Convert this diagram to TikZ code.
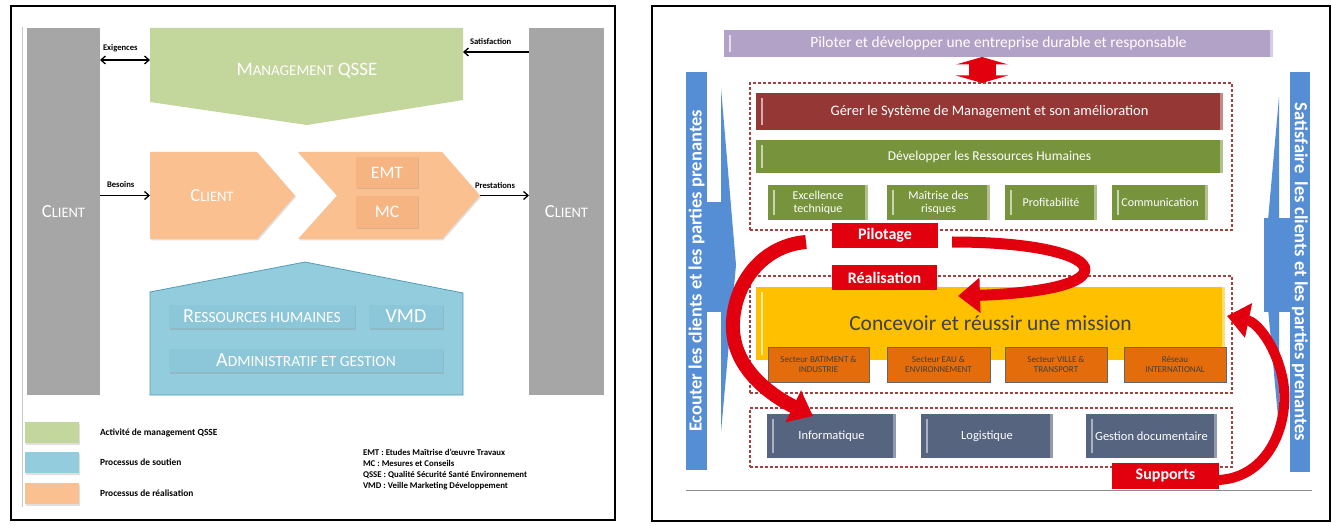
\documentclass[tikz,border=0pt]{standalone}
\usepackage{fontspec}
\setmainfont{Carlito}
\usetikzlibrary{arrows.meta,shadows}

% palette
\definecolor{clientgray}{HTML}{A6A6A6}
\definecolor{qsse}{HTML}{C3D69B}
\definecolor{real}{HTML}{FAC090}
\definecolor{realdark}{HTML}{F6B482}
\definecolor{soutien}{HTML}{93CDDD}
\definecolor{soutiendark}{HTML}{8CC6D9}
\definecolor{soutienedge}{HTML}{4F9DB8}
\definecolor{pilotpurple}{HTML}{B3A2C7}
\definecolor{smred}{HTML}{953735}
\definecolor{rhgreen}{HTML}{77933C}
\definecolor{mission}{HTML}{FFC000}
\definecolor{sector}{HTML}{E46C0A}
\definecolor{support}{HTML}{56647F}
\definecolor{flow}{HTML}{E2000F}
\definecolor{sideblue}{HTML}{558ED5}
\definecolor{dashred}{HTML}{A3413F}

\newcommand\fsz[1]{\fontsize{#1}{#1}\selectfont}
% capital letter followed by smaller capitals
\newcommand\capsmall[3]{#2{\fontsize{#1}{#1}\selectfont #3}}

\begin{document}
\begin{tikzpicture}[x=1pt,y=-1pt,
  every node/.style={inner sep=0pt,outer sep=0pt},
  softshadow/.style={drop shadow={opacity=0.25,shadow xshift=1pt,shadow yshift=-1.5pt}},
  clientbar/.style={fill=clientgray,minimum height=367pt,text=white,font=\fsz{18.5}},
  conn/.style={line width=1.3pt,-{Straight Barb[length=4.5pt,width=8pt]}},
  conn2/.style={line width=1.3pt,{Straight Barb[length=4.5pt,width=8pt]}-{Straight Barb[length=4.5pt,width=8pt]}},
  lbl/.style={font=\bfseries\fsz{8.6}},
  subbox/.style={fill=realdark,minimum width=62pt,text=white,font=\fsz{17.5},softshadow},
  supbox/.style={fill=soutiendark,minimum height=23pt,text=white,font=\fsz{20},softshadow},
  swatch/.style={minimum width=54pt,minimum height=21pt,softshadow},
  legtext/.style={anchor=west,font=\bfseries\fsz{9.4}},
  abbr/.style={anchor=west,font=\bfseries\fsz{8.8}},
  stripe/.style={path picture={
      \draw[#1,line width=1.4pt] ([xshift=6pt,yshift=-5pt]path picture bounding box.north west)
        -- ([xshift=6pt,yshift=5pt]path picture bounding box.south west);
      \fill[#1,opacity=0.7] ([xshift=-3pt]path picture bounding box.north east)
        rectangle (path picture bounding box.south east);}},
  bar/.style={text=white},
  gbox/.style={fill=rhgreen,minimum height=35pt,text=white,align=center,
    font=\fontsize{12}{13}\selectfont,stripe=rhgreen!40!white},
  secbox/.style={fill=sector,draw=black!60,line width=0.8pt,minimum height=35pt,
    align=center,text=black!75,font=\fontsize{9}{10.5}\selectfont},
  sbox/.style={fill=support,minimum height=44pt,text=white,font=\fsz{12.5},stripe=support!50!white},
  zone/.style={draw=dashred,line width=1.2pt,dash pattern=on 3pt off 2pt,minimum width=482pt},
  redlbl/.style={fill=flow,text=white,font=\bfseries\fsz{16}},
  flowarrow/.style={draw=flow,-{Triangle[length=22pt,width=34pt]}},
  dblarrow/.style={draw=flow,line width=27pt,{Triangle[length=7.5pt,width=52pt]}-{Triangle[length=7.5pt,width=52pt]}},
  sidebar/.style={fill=sideblue,text=white,font=\bfseries\fsz{18.5}}
]
\useasboundingbox (0,0) rectangle (1332,526);
\fill[white] (0,0) rectangle (1332,526);

%% ---------------- left panel: process map ----------------
\draw[line width=2.6pt] (11,6) rectangle (615,520);
\draw[black!22,line width=0.7pt] (22,27) -- (22,507);

\node[clientbar,minimum width=73pt] (clientL) at (63.5,211.5) {\capsmall{14.5}{C}{LIENT}};
\node[clientbar,minimum width=75pt] (clientR) at (566.5,211.5) {\capsmall{14.5}{C}{LIENT}};

% management (QSSE)
\fill[qsse] (150,28) -- (463,28) -- (463,100) -- (307,125) -- (150,102) -- cycle;
\node[text=white,font=\fsz{19}] (mgmt) at (307,71) {\capsmall{15}{M}{ANAGEMENT} QSSE};
\coordinate (mgmtW) at (150,60);
\coordinate (mgmtE) at (463,52);
\draw[conn2] (clientL.east |- mgmtW) -- (mgmtW);
\draw[conn] (clientR.west |- mgmtE) -- (mgmtE);
\node[lbl,anchor=south west] (exig) at (103,52) {Exigences};
\node[lbl,anchor=south west] (satis) at (470,45) {Satisfaction};

% realisation chevrons
\fill[real,softshadow] (150,152) -- (257,152) -- (295,195.5) -- (257,239) -- (150,239) -- cycle;
\node[text=white,font=\fsz{18.5}] (chevA) at (212,196) {\capsmall{14.5}{C}{LIENT}};
\fill[real,softshadow] (298,152) -- (442,152) -- (480,195.5) -- (442,239) -- (298,239) -- (337,195.5) -- cycle;
\node[subbox,minimum height=31pt] (emt) at (387,172.5) {EMT};
\node[subbox,minimum height=32pt] (mc) at (387,212) {MC};
\coordinate (chevAW) at (150,195.5);
\coordinate (chevBE) at (480,195.5);
\draw[conn] (clientL.east |- chevAW) -- (chevAW);
\draw[conn] (chevBE) -- (clientR.west |- chevBE);
\node[lbl,anchor=south west] (besoins) at (107,188) {Besoins};
\node[lbl,anchor=south west] (prest) at (475,189) {Prestations};

% support processes
\filldraw[fill=soutien,draw=soutienedge,line width=0.8pt]
  (150,292) -- (305,262) -- (463,293) -- (463,395) -- (150,395) -- cycle;
\node[supbox,minimum width=186pt] (rh) at (262,316.5) {\capsmall{15.5}{R}{ESSOURCES HUMAINES}};
\node[supbox,minimum width=74pt] (vmd) at (406,316.5) {VMD};
\node[supbox,minimum width=274pt] (admin) at (306,360.5) {\capsmall{15.5}{A}{DMINISTRATIF ET GESTION}};

% legend
\node[swatch,fill=qsse] (swA) at (52,432.5) {};
\node[swatch,fill=soutien] (swB) at (52,462.5) {};
\node[swatch,fill=real] (swC) at (52,493.5) {};
\node[legtext] (legA) at (100,432.5) {Activité de management QSSE};
\node[legtext] (legB) at (100,462.5) {Processus de soutien};
\node[legtext] (legC) at (100,493.5) {Processus de réalisation};

\node[abbr] (abA) at (363,452) {EMT : Etudes Maîtrise d’œuvre Travaux};
\node[abbr] (abB) at (363,463.5) {MC : Mesures et Conseils};
\node[abbr] (abC) at (363,475) {QSSE : Qualité Sécurité Santé Environnement};
\node[abbr] (abD) at (363,486.5) {VMD : Veille Marketing Développement};

%% ---------------- right panel: enterprise model ----------------
\draw[line width=2.6pt] (652,6) rectangle (1330,521);
\draw[black!45,line width=0.8pt] (686,490) -- (1312,490);

% side arrows
\fill[sideblue] (707,202) rectangle (722,312);
\fill[sideblue] (721,88) -- (736,265) -- (721,432) -- cycle;
\node[sidebar,rotate=90,minimum width=398pt,minimum height=21pt] (ecouter) at (696.5,271)
  {Ecouter les clients et les parties prenantes};
\fill[sideblue] (1264,218) rectangle (1290,312);
\fill[sideblue] (1279,97) -- (1264,265) -- (1279,428) -- cycle;
\node[sidebar,rotate=-90,minimum width=400pt,minimum height=20pt] (satisf) at (1300,272)
  {Satisfaire\hspace{0.45em}les clients et les parties prenantes};

% top goal
\node[bar,fill=pilotpurple,minimum width=549pt,minimum height=27pt,font=\fsz{15.5},
  stripe=pilotpurple!35!white] (piloter) at (998.5,43.5)
  {Piloter et développer une entreprise durable et responsable};

% process zones
\node[zone,minimum height=147pt] (pilotzone) at (991,156.5) {};
\node[zone,minimum height=117pt] (realzone) at (991,334.5) {};
\node[zone,minimum height=59pt] (suppzone) at (991,437.5) {};

\draw[dblarrow] (piloter.south -| 982,0) -- (pilotzone.north -| 982,0);

% steering processes
\node[bar,fill=smred,minimum width=467pt,minimum height=37pt,font=\fsz{14.5},
  stripe=smred!40!white] (gerer) at (989.5,111.5)
  {Gérer le Système de Management et son amélioration};
\node[bar,fill=rhgreen,minimum width=467pt,minimum height=33pt,font=\fsz{13.5},
  stripe=rhgreen!40!white] (rhbar) at (989.5,156.5)
  {Développer les Ressources Humaines};
\node[gbox,minimum width=100pt] (excel) at (818,202.5) {Excellence\\technique};
\node[gbox,minimum width=103pt] (risques) at (938.5,202.5) {Maîtrise des\\risques};
\node[gbox,minimum width=92pt] (profit) at (1051,202.5) {Profitabilité};
\node[gbox,minimum width=96pt] (comm) at (1160,202.5) {Communication};

% core mission
\node[fill=mission,minimum width=469pt,minimum height=73pt,text=black!75,font=\fsz{21.5},
  stripe=mission!35!white] (mission) at (990.5,323.5) {Concevoir et réussir une mission};
\node[secbox,minimum width=101pt] (bat) at (818.5,364.5) {Secteur BATIMENT \&\\INDUSTRIE};
\node[secbox,minimum width=103pt] (eau) at (938.5,364.5) {Secteur EAU \&\\ENVIRONNEMENT};
\node[secbox,minimum width=102pt] (ville) at (1056,364.5) {Secteur VILLE \&\\TRANSPORT};
\node[secbox,minimum width=102pt] (reseau) at (1175,364.5) {Réseau\\INTERNATIONAL};

% support processes
\node[sbox,minimum width=129pt] (info) at (831.5,436) {Informatique};
\node[sbox,minimum width=132pt] (logi) at (987,436) {Logistique};
\node[sbox,minimum width=131pt] (gdoc) at (1151.5,436) {Gestion documentaire};

% flows between the process families
\coordinate (f1s) at (806,242);
\coordinate (f1e) at (813,416);
\draw[flowarrow,line width=14pt] (f1s) .. controls (758,246) and (731,290) .. (733,330)
  .. controls (735,370) and (772,396) .. (f1e);
\coordinate (f2s) at (952,242);
\coordinate (f2e) at (958,296);
\draw[flowarrow,line width=11pt] (f2s) .. controls (1045,242) and (1092,258) .. (1084,273)
  .. controls (1076,288) and (1020,294) .. (f2e);
\coordinate (f3s) at (1218,480);
\coordinate (f3e) at (1227,316);
\draw[flowarrow,line width=10pt] (f3s) .. controls (1270,478) and (1292,420) .. (1282,376)
  .. controls (1274,342) and (1256,322) .. (f3e);

\node[redlbl,minimum width=106pt,minimum height=25pt] (pilot) at (885,235.5) {Pilotage};
\node[redlbl,minimum width=105pt,minimum height=25pt] (realis) at (884.5,277.5) {Réalisation};
\node[redlbl,minimum width=107pt,minimum height=26pt] (supp) at (1165.5,476) {Supports};
\end{tikzpicture}
\end{document}
